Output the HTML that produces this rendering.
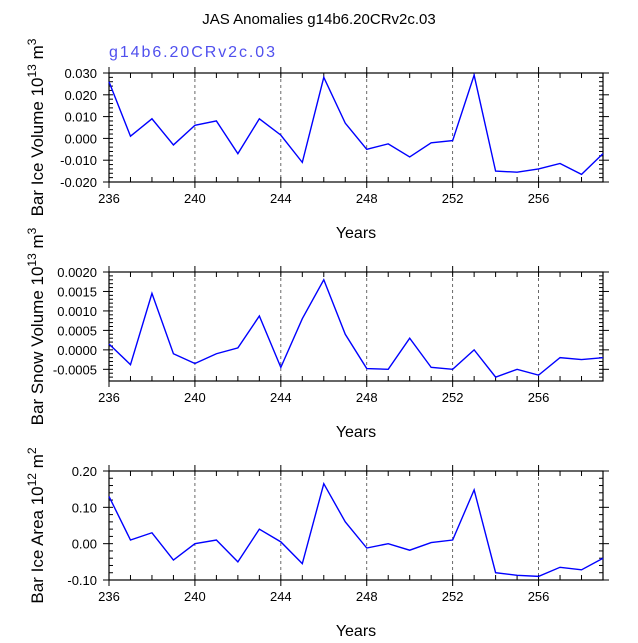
<!DOCTYPE html>
<html><head><meta charset="utf-8"><style>
body{margin:0;background:#fff;width:638px;height:638px;overflow:hidden}
svg{font-family:"Liberation Sans",sans-serif}
</style></head><body>
<svg id="c" width="638" height="638" viewBox="0 0 638 638">
<text x="319" y="24" text-anchor="middle" font-size="15">JAS Anomalies g14b6.20CRv2c.03</text>
<text x="109" y="57" font-size="16" fill="#5050ee" textLength="166">g14b6.20CRv2c.03</text>
</svg>
<script>
const years=[236,237,238,239,240,241,242,243,244,245,246,247,248,249,250,251,252,253,254,255,256,257,258,259];
const iceVol=[0.026,0.001,0.009,-0.003,0.006,0.008,-0.007,0.009,0.0015,-0.011,0.028,0.007,-0.005,-0.0025,-0.0085,-0.002,-0.001,0.029,-0.015,-0.0155,-0.014,-0.0115,-0.0165,-0.007];
const snowVol=[0.00015,-0.00038,0.00145,-0.0001,-0.00035,-0.0001,0.00005,0.00087,-0.00045,0.0008,0.0018,0.0004,-0.00048,-0.0005,0.0003,-0.00045,-0.0005,0.0,-0.0007,-0.0005,-0.00065,-0.0002,-0.00025,-0.0002];
const iceArea=[0.13,0.01,0.03,-0.045,0.0,0.01,-0.05,0.04,0.005,-0.055,0.165,0.06,-0.012,0.0,-0.018,0.003,0.01,0.148,-0.08,-0.087,-0.09,-0.065,-0.072,-0.04];
const xTicks=[236,240,244,248,252,256];
const iceVolTicks=[0.03,0.02,0.01,0,-0.01,-0.02];
const snowTicks=[0.002,0.0015,0.001,0.0005,0,-0.0005];
const areaTicks=[0.2,0.1,0,-0.1];
const NS="http://www.w3.org/2000/svg";
const svg=document.getElementById('c');
function el(t,a,p){const e=document.createElementNS(NS,t);for(const k in a)e.setAttribute(k,a[k]);(p||svg).appendChild(e);return e;}
const X0=109,X1=603,xmin=236,xmax=259;
function sx(v){return X0+(v-xmin)/(xmax-xmin)*(X1-X0);}
function panel(name,top,bot,ymin,ymax,ticks,dec,minorStep,vals,lab1,sup,lab2,sup2){
  const sy=v=>bot-(v-ymin)/(ymax-ymin)*(bot-top);
  const g=el('g',{});
  
  
  xTicks.slice(1).forEach(t=>{const l=el('line',{x1:sx(t),x2:sx(t),y1:top,y2:bot,stroke:'#444','stroke-dasharray':'3,3','stroke-width':0.8},g);
    });
  for(let y=xmin;y<=xmax;y++){const x=sx(y);
    el('line',{x1:x,x2:x,y1:bot,y2:bot-5,stroke:'#000'},g);
    el('line',{x1:x,x2:x,y1:top,y2:top+5,stroke:'#000'},g);}
  xTicks.forEach(t=>{const x=sx(t);
    el('line',{x1:x,x2:x,y1:bot,y2:bot+6,stroke:'#000'},g);
    el('line',{x1:x,x2:x,y1:top,y2:top-6,stroke:'#000'},g);
    const tx=el('text',{x:x,y:bot+21,'text-anchor':'middle','font-size':13},g);tx.textContent=t;
    });
  for(let v=ymin;v<=ymax+1e-12;v+=minorStep){const y=sy(v);
    el('line',{x1:X0,x2:X0+4,y1:y,y2:y,stroke:'#000'},g);
    el('line',{x1:X1,x2:X1-4,y1:y,y2:y,stroke:'#000'},g);}
  ticks.forEach(t=>{const y=sy(t);
    el('line',{x1:X0,x2:X0-6,y1:y,y2:y,stroke:'#000'},g);
    el('line',{x1:X1,x2:X1+6,y1:y,y2:y,stroke:'#000'},g);
    const tx=el('text',{x:X0-12,y:y+5,'text-anchor':'end','font-size':13},g);tx.textContent=t.toFixed(dec);
    });
  el('rect',{x:X0,y:top,width:X1-X0,height:bot-top,fill:'none',stroke:'#000','stroke-width':1.2},g);
  const pts=vals.map((v,i)=>sx(years[i])+','+sy(v)).join(' ');
  const pl=el('polyline',{points:pts,fill:'none',stroke:'#0000ff','stroke-width':1.4},g);
  
  const xt=el('text',{x:(X0+X1)/2,y:bot+56,'text-anchor':'middle','font-size':16},g);xt.textContent='Years';
  
  const cy=(top+bot)/2;
  const yt=el('text',{x:0,y:0,'text-anchor':'middle','font-size':17,transform:'translate(43,'+cy+') rotate(-90)'},g);
  
  yt.appendChild(document.createTextNode(lab1));
  const s=el('tspan',{dy:-7,'font-size':12},yt);s.textContent=sup;
  const s2=el('tspan',{dy:7},yt);s2.textContent=' '+lab2;
  const s3=el('tspan',{dy:-7,'font-size':12},yt);s3.textContent=sup2;
}
panel('ice-volume',73,182,-0.02,0.03,iceVolTicks,3,0.002,iceVol,'Bar Ice Volume 10','13','m','3');
panel('snow-volume',272,381,-0.0008,0.002,snowTicks,4,0.0001,snowVol,'Bar Snow Volume 10','13','m','3');
panel('ice-area',471,580,-0.1,0.2,areaTicks,2,0.02,iceArea,'Bar Ice Area 10','12','m','2');
</script>
</body></html>
